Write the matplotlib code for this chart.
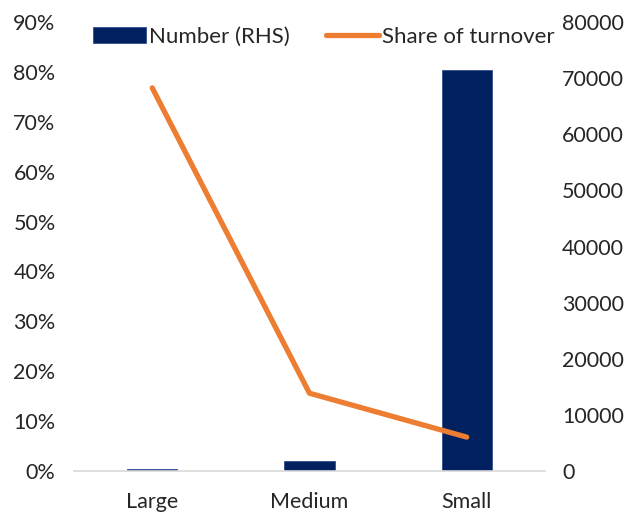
import matplotlib
matplotlib.use("Agg")
import matplotlib.pyplot as plt
from matplotlib.ticker import FuncFormatter, MultipleLocator

categories = ["Large", "Medium", "Small"]
number_rhs = [400, 1800, 71500]
share_turnover = [0.768, 0.156, 0.068]

plt.rcParams['font.family'] = ['Lato', 'DejaVu Sans']

fig = plt.figure(figsize=(6.29, 5.12), dpi=100)
ax = fig.add_axes([0.117, 0.080, 0.750, 0.877])
ax2 = ax.twinx()

x = list(range(len(categories)))
bars = ax2.bar(x, number_rhs, width=0.32, color="#002060", edgecolor="#2F4F8F",
               linewidth=0.6, label="Number (RHS)", zorder=2)
ax2.set_ylim(0, 80000)
ax2.yaxis.set_major_locator(MultipleLocator(10000))

ax.set_zorder(ax2.get_zorder() + 1)
ax.patch.set_visible(False)
line, = ax.plot(x, share_turnover, color="#ED7D31", linewidth=3.8,
                solid_capstyle="round", label="Share of turnover")
ax.set_ylim(0, 0.9)
ax.set_xlim(-0.5, 2.5)
ax.yaxis.set_major_locator(MultipleLocator(0.1))
ax.yaxis.set_major_formatter(FuncFormatter(lambda v, p: f"{v*100:.0f}%"))
ax.set_xticks(x)
ax.set_xticklabels(categories)

for a in (ax, ax2):
    for s in a.spines.values():
        s.set_visible(False)
    a.tick_params(length=0, labelsize=15.5, colors="#262626")
ax.spines['bottom'].set_visible(True)
ax.spines['bottom'].set_color("#D9D9D9")
ax.spines['bottom'].set_linewidth(1.2)
ax.tick_params(axis='y', pad=13)
ax.tick_params(axis='x', pad=15)
ax2.tick_params(axis='y', pad=12)

fig.legend([bars, line], ["Number (RHS)", "Share of turnover"],
           loc="center", bbox_to_anchor=(0.515, 0.928), ncol=2, frameon=False,
           fontsize=16, handlelength=2.4, handletextpad=0.15, columnspacing=1.6,
           labelcolor="#262626")

fig.savefig("out.png", dpi=100)
